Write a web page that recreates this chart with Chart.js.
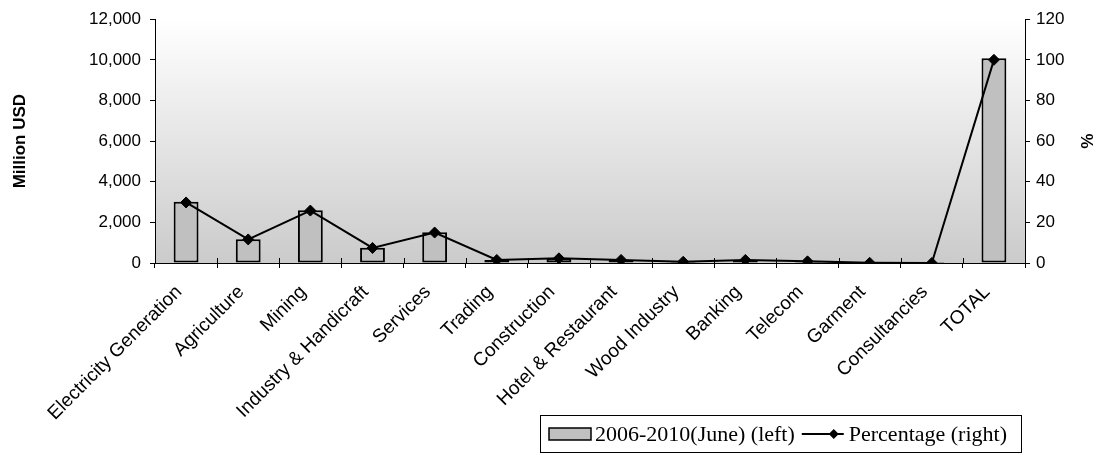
<!DOCTYPE html>
<html>
<head>
<meta charset="utf-8">
<script src="https://cdn.jsdelivr.net/npm/chart.js@4.4.1/dist/chart.umd.min.js"></script>
<style>
  html, body { margin: 0; padding: 0; background: #ffffff; }
  #c { display: block; }
</style>
</head>
<body>
<canvas id="c" width="1104" height="455"></canvas>
<script>
const categories = ["Electricity Generation", "Agriculture", "Mining", "Industry & Handicraft", "Services", "Trading", "Construction", "Hotel & Restaurant", "Wood Industry", "Banking", "Telecom", "Garment", "Consultancies", "TOTAL"];
const investment = [3010, 1170, 2600, 750, 1510, 150, 230, 150, 60, 150, 80, 10, 2, 10080];
const percentage = [29.8, 11.6, 25.8, 7.4, 15.0, 1.5, 2.3, 1.5, 0.6, 1.5, 0.8, 0.1, 0.0, 100];
const leftTicks = [0, 2000, 4000, 6000, 8000, 10000, 12000];
const rightTicks = [0, 20, 40, 60, 80, 100, 120];
const seriesNames = ["2006-2010(June) (left)", "Percentage (right)"];
const axisTitles = ["Million USD", "%"];

const SANS = "'Liberation Sans', Arial, sans-serif";
const SERIF = "'Liberation Serif', 'Times New Roman', serif";

const bgPlugin = {
  id: 'bgPlugin',
  beforeDraw(chart) {
    const { ctx, chartArea: a } = chart;
    const g = ctx.createLinearGradient(0, a.top, 0, a.bottom);
    g.addColorStop(0, '#ffffff');
    g.addColorStop(1, '#cbcbcb');
    ctx.save();
    ctx.fillStyle = g;
    ctx.fillRect(a.left, a.top, a.right - a.left, a.bottom - a.top);
    ctx.restore();
  }
};

// inner halves of the category tick marks (they cross the axis line)
const innerTicks = {
  id: 'innerTicks',
  afterDraw(chart) {
    const xs = chart.scales.x;
    const ctx = chart.ctx;
    const n = categories.length;
    const w = xs.getPixelForValue(1) - xs.getPixelForValue(0);
    const yb = chart.chartArea.bottom;
    ctx.save();
    ctx.strokeStyle = '#000';
    ctx.lineWidth = 1;
    ctx.beginPath();
    for (let i = 0; i <= n; i++) {
      const px = Math.round(xs.getPixelForValue(0) - w / 2 + i * w) + 0.5;
      ctx.moveTo(px, yb);
      ctx.lineTo(px, yb - 5);
    }
    ctx.stroke();
    ctx.restore();
  }
};

const legendPlugin = {
  id: 'boxLegend',
  afterDraw(chart) {
    const ctx = chart.ctx;
    ctx.save();
    const bx = 540.5, by = 415.5, bw = 481, bh = 37;
    ctx.strokeStyle = '#000';
    ctx.lineWidth = 1;
    ctx.strokeRect(bx, by, bw, bh);
    ctx.font = '22px ' + SERIF;
    ctx.textBaseline = 'middle';
    const cy = by + bh / 2;
    // bar swatch
    ctx.fillStyle = '#c0c0c0';
    ctx.fillRect(549, cy - 6, 42, 12);
    ctx.lineWidth = 1.5;
    ctx.strokeRect(549, cy - 6, 42, 12);
    ctx.fillStyle = '#000';
    let x = 595;
    ctx.fillText(seriesNames[0], x, cy + 1);
    x += ctx.measureText(seriesNames[0]).width + 7;
    // line swatch
    ctx.beginPath();
    ctx.moveTo(x, cy);
    ctx.lineTo(x + 42, cy);
    ctx.lineWidth = 2;
    ctx.stroke();
    const dx = x + 32;
    ctx.beginPath();
    ctx.moveTo(dx, cy - 5);
    ctx.lineTo(dx + 5, cy);
    ctx.lineTo(dx, cy + 5);
    ctx.lineTo(dx - 5, cy);
    ctx.closePath();
    ctx.fill();
    x += 47;
    ctx.fillText(seriesNames[1], x, cy + 1);
    ctx.restore();
  }
};

new Chart(document.getElementById('c'), {
  data: {
    labels: categories,
    datasets: [
      {
        type: 'line',
        label: seriesNames[1],
        data: percentage,
        yAxisID: 'y1',
        borderColor: '#000',
        borderWidth: 2,
        backgroundColor: '#000',
        pointStyle: 'rectRot',
        pointRadius: 5.5,
        pointBackgroundColor: '#000',
        pointBorderColor: '#000',
        pointBorderWidth: 1,
        tension: 0,
        order: 0
      },
      {
        type: 'bar',
        label: seriesNames[0],
        data: investment,
        yAxisID: 'y',
        backgroundColor: '#c0c0c0',
        borderColor: '#000',
        borderWidth: 2,
        borderSkipped: false,
        categoryPercentage: 1,
        barPercentage: 0.4,
        order: 1
      }
    ]
  },
  options: {
    responsive: false,
    animation: false,
    devicePixelRatio: 1,
    layout: { padding: { top: 19, left: 0, right: 0, bottom: 0 } },
    plugins: {
      legend: { display: false },
      tooltip: { enabled: false }
    },
    scales: {
      x: {
        offset: true,
        grid: { offset: true, drawOnChartArea: false, drawTicks: true, tickLength: 5, color: '#000' },
        border: { display: true, color: '#000', width: 1 },
        ticks: {
          autoSkip: false,
          maxRotation: 45,
          minRotation: 45,
          color: '#000',
          padding: 13,
          labelOffset: -7,
          font: { family: SANS, size: 19 }
        },
        afterFit(s) { s.height = 455 - 263; }
      },
      y: {
        position: 'left',
        min: leftTicks[0],
        max: leftTicks[leftTicks.length - 1],
        afterBuildTicks(s) { s.ticks = leftTicks.map(v => ({ value: v })); },
        grid: { drawOnChartArea: false, drawTicks: true, tickLength: 5, color: '#000' },
        border: { display: true, color: '#000', width: 1 },
        ticks: {
          color: '#000',
          padding: 9,
          font: { family: SANS, size: 17 },
          callback: v => v.toLocaleString('en-US')
        },
        title: {
          display: true,
          text: axisTitles[0],
          color: '#000',
          font: { family: SANS, size: 17, weight: 'bold' },
          padding: { top: 10, bottom: 0 }
        },
        afterFit(s) { s.width = 155; }
      },
      y1: {
        position: 'right',
        min: rightTicks[0],
        max: rightTicks[rightTicks.length - 1],
        afterBuildTicks(s) { s.ticks = rightTicks.map(v => ({ value: v })); },
        grid: { drawOnChartArea: false, drawTicks: true, tickLength: 5, color: '#000' },
        border: { display: true, color: '#000', width: 1 },
        ticks: {
          color: '#000',
          padding: 6,
          font: { family: SANS, size: 17 }
        },
        title: {
          display: true,
          text: axisTitles[1],
          color: '#000',
          font: { family: SANS, size: 17, weight: 'bold' },
          padding: { top: 8, bottom: 0 }
        },
        afterFit(s) { s.width = 1104 - 1025; }
      }
    }
  },
  plugins: [bgPlugin, innerTicks, legendPlugin]
});
</script>
</body>
</html>
